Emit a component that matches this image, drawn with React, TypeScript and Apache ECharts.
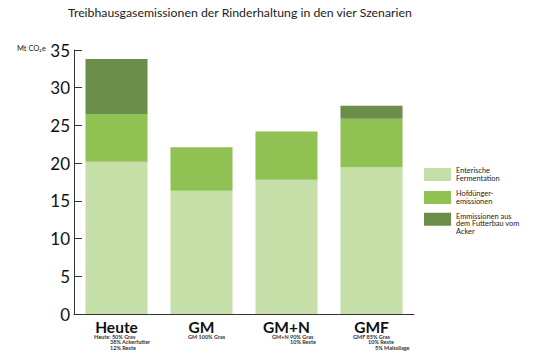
import React, { useEffect, useRef } from "react";
import * as echarts from "echarts";

const categories = ["Heute", "GM", "GM+N", "GMF"];
const enterisch = [20.2, 16.35, 17.8, 19.45];
const hofduenger = [6.3, 5.75, 6.4, 6.45];
const acker = [7.3, 0, 0, 1.7];
const seriesNames = ["Enterische\nFermentation", "Hofdünger-\nemissionen", "Emmissionen aus\ndem Futterbau vom\nAcker"];
const yTicks = [0, 5, 10, 15, 20, 25, 30, 35];
const subLabels = [
  ["Heute: 50% Gras", "38% Ackerfutter", "12% Reste"],
  ["GM 100% Gras"],
  ["GM+N 90% Gras", "10% Reste"],
  ["GMF 85% Gras", "10% Reste", "5% Maissilage"],
];

const colors = ["#c6dfa8", "#8fc153", "#6b8f4a"];
const FONT = "Lato, 'Liberation Sans', sans-serif";

export default function App() {
  const ref = useRef<HTMLDivElement>(null);
  useEffect(() => {
    if (!ref.current) return;
    const chart = echarts.init(ref.current, undefined, { renderer: "svg" });
    const subX = [94, 188, 272, 353];
    const subIndent = [[0, 16, 16], [0], [0, 18], [0, 15, 22]];
    const graphics: any[] = [
      {
        type: "text",
        x: 17,
        y: 44,
        style: { text: "Mt CO₂e", fontSize: 7.5, fill: "#222", fontFamily: FONT },
      },
    ];
    subLabels.forEach((lines, i) => {
      const rich: any = {};
      const text = lines
        .map((t, j) => {
          rich["l" + j] = {
            fontSize: 5.5,
            lineHeight: 5.2,
            fontWeight: "bold",
            fill: "#333",
            fontFamily: FONT,
            padding: [0, 0, 0, subIndent[i][j]],
          };
          return "{l" + j + "|" + t + "}";
        })
        .join("\n");
      graphics.push({
        type: "text",
        x: subX[i],
        y: 334.5,
        style: { text, rich, fontSize: 5.5, lineHeight: 5.2, fontFamily: FONT, fill: "#333" },
      });
    });
    const legendTops = [167, 190, 203.5];
    chart.setOption({
      animation: false,
      title: {
        text: "Treibhausgasemissionen der Rinderhaltung in den vier Szenarien",
        left: 68,
        top: 6,
        padding: 0,
        textStyle: { fontSize: 12.3, fontWeight: "normal", color: "#222", fontFamily: FONT },
      },
      legend: seriesNames.map((n, i) => ({
        data: [n],
        left: 424,
        top: legendTops[i],
        padding: 0,
        orient: "vertical",
        itemWidth: 27,
        itemHeight: 13,
        icon: "rect",
        selectedMode: false,
        formatter:
          i === 2
            ? (name: string) =>
                "{s|}\n" +
                name
                  .split("\n")
                  .map((l) => "{a|" + l + "}")
                  .join("\n")
            : undefined,
        textStyle: {
          fontSize: 7.4,
          lineHeight: 7.5,
          color: "#222",
          fontFamily: FONT,
          rich: {
            s: { lineHeight: 9, fontSize: 7.4 },
            a: { fontSize: 7.4, lineHeight: 7.5, color: "#222", fontFamily: FONT },
          },
        },
      })),
      grid: { left: 74, right: 123, top: 50, bottom: 44 },
      xAxis: {
        type: "category",
        data: categories,
        axisLine: { lineStyle: { color: "#333", width: 1 } },
        axisTick: { inside: true, length: 8, lineStyle: { color: "#333" } },
        axisLabel: {
          fontSize: 15.5,
          lineHeight: 13,
          fontWeight: "bold",
          color: "#111",
          margin: 6,
          fontFamily: FONT,
        },
      },
      yAxis: {
        type: "value",
        min: 0,
        max: 35,
        interval: 5,
        splitLine: { show: false },
        axisLine: { show: true, lineStyle: { color: "#333", width: 1 } },
        axisTick: { show: true, inside: true, length: 8, lineStyle: { color: "#333" } },
        axisLabel: {
          fontSize: 17,
          color: "#111",
          margin: 4,
          fontFamily: FONT,
          formatter: (v: number) => (yTicks.includes(v) ? String(v) : ""),
        },
      },
      series: [enterisch, hofduenger, acker].map((d, i) => ({
        name: seriesNames[i],
        type: "bar",
        stack: "total",
        barWidth: "73%",
        data: d,
        itemStyle: { color: colors[i] },
      })),
      graphic: graphics,
    });
    return () => chart.dispose();
  }, []);
  return (
    <div
      ref={ref}
      style={{ position: "absolute", left: 0, top: 0, width: 537, height: 358 }}
    />
  );
}
